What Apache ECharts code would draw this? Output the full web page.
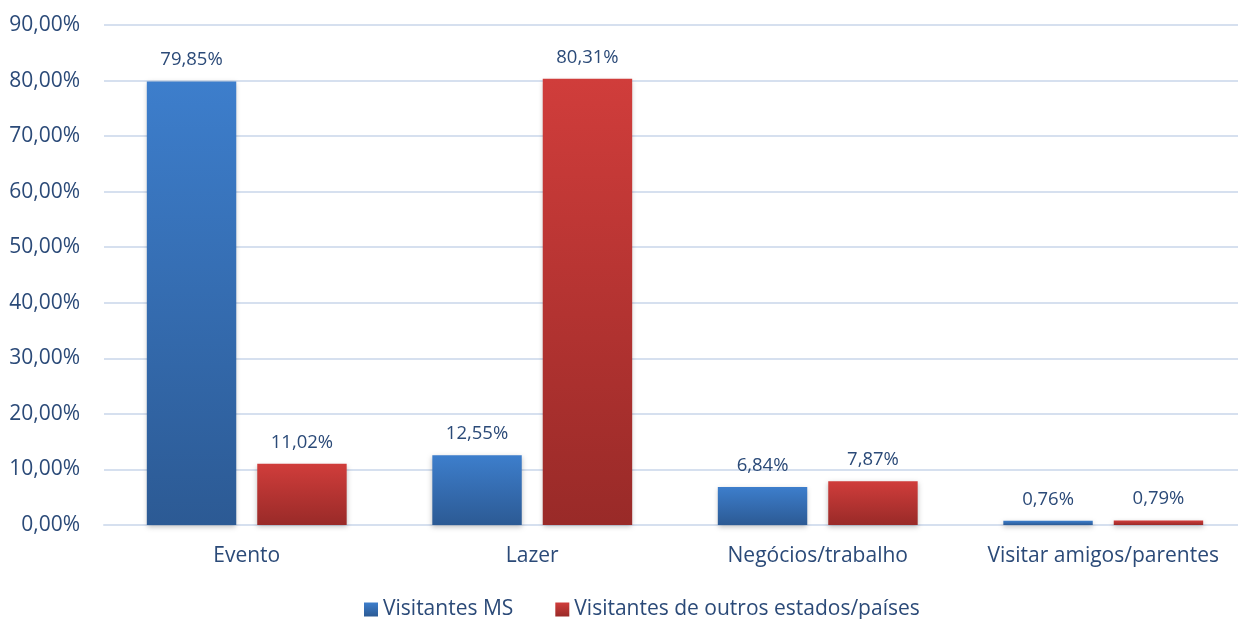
<!DOCTYPE html>
<html>
<head>
<meta charset="utf-8">
<script src="https://cdn.jsdelivr.net/npm/echarts@6/dist/echarts.min.js"></script>
<style>
  html, body { margin: 0; padding: 0; background: #fff; overflow: hidden; }
  /* a few pixels wider than the window: the plot runs past the right edge, as in the original */
  #chart { width: 1246px; height: 619px; }
</style>
</head>
<body>
<div id="chart"></div>
<script>
var categories = ["Evento", "Lazer", "Negócios/trabalho", "Visitar amigos/parentes"];
var visitantesMS = [79.85, 12.55, 6.84, 0.76];
var visitantesOutros = [11.02, 80.31, 7.87, 0.79];
var seriesNames = ["Visitantes MS", "Visitantes de outros estados/países"];

var textColor = "#2B4A78";
var font = "'Open Sans', sans-serif";

function pct(v) {
  return v.toFixed(2).replace(".", ",") + "%";
}

function grad(top, bottom) {
  return new echarts.graphic.LinearGradient(0, 0, 0, 1, [
    { offset: 0, color: top },
    { offset: 1, color: bottom }
  ]);
}

var blue = grad("#3D7ECC", "#2C5A94");
var red = grad("#D03D3B", "#992A28");

var myChart = echarts.init(document.getElementById("chart"));

function barSeries(name, data, color) {
  return {
    name: name,
    type: "bar",
    data: data,
    barGap: "23.5%",
    barCategoryGap: "30%",
    itemStyle: {
      color: color,
      shadowColor: "rgba(0,0,0,0.25)",
      shadowBlur: 5,
      shadowOffsetY: 2
    },
    label: {
      show: true,
      position: "top",
      distance: 12,
      color: textColor,
      fontFamily: font,
      fontSize: 18.5,
      formatter: function (p) { return pct(p.value); }
    }
  };
}

myChart.setOption({
  animation: false,
  textStyle: { fontFamily: font },
  grid: { left: 104, right: 0, top: 25, height: 500 },
  legend: {
    top: 594,
    left: 359,
    itemWidth: 14,
    itemHeight: 14,
    itemGap: 42,
    icon: "rect",
    textStyle: { color: textColor, fontSize: 21, fontFamily: font },
    data: seriesNames
  },
  xAxis: {
    type: "category",
    data: categories,
    axisLine: { lineStyle: { color: "#D6E0EF", width: 2 } },
    axisTick: { show: false },
    axisLabel: { interval: 0, color: textColor, fontSize: 21, fontFamily: font, margin: 21 }
  },
  yAxis: {
    type: "value",
    min: 0,
    max: 90,
    interval: 10,
    axisLine: { show: false },
    axisTick: { show: false },
    splitLine: { lineStyle: { color: "#D6E0EF", width: 2 } },
    axisLabel: {
      color: textColor,
      fontSize: 21,
      fontFamily: font,
      margin: 24,
      formatter: function (v) { return pct(v); }
    }
  },
  series: [
    barSeries(seriesNames[0], visitantesMS, blue),
    barSeries(seriesNames[1], visitantesOutros, red)
  ]
});
</script>
</body>
</html>
